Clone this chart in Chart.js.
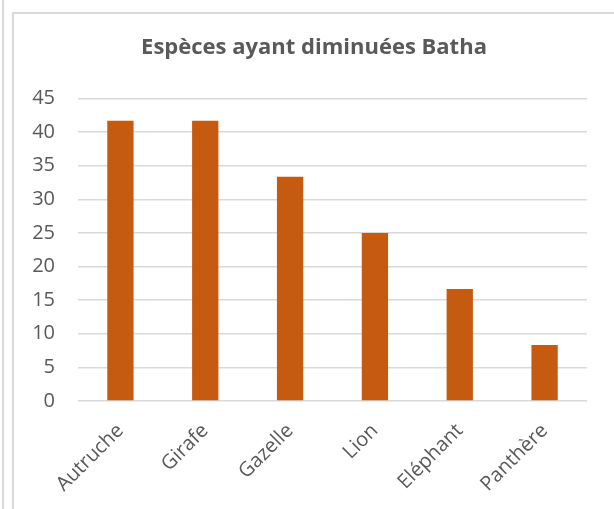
<!DOCTYPE html>
<html>
<head>
<meta charset="utf-8">
<script src="https://cdn.jsdelivr.net/npm/chart.js@4/dist/chart.umd.min.js"></script>
<style>
    html, body { margin: 0; padding: 0; background: #ffffff; }
    body { width: 614px; height: 509px; position: relative; overflow: hidden; }
    .edge { position: absolute; left: 2px; top: 0; width: 2px; height: 509px; background: #d9d9d9; }
    .frame {
        position: absolute; left: 12px; top: 12px; width: 600px; height: 495px;
        border-left: 2px solid #d9d9d9; border-top: 2px solid #d9d9d9;
    }
</style>
</head>
<body>
<div class="edge"></div>
<div class="frame"><canvas id="chart" width="600" height="495"></canvas></div>
<script>
const title = 'Espèces ayant diminuées Batha';
const species = ['Autruche', 'Girafe', 'Gazelle', 'Lion', 'Eléphant', 'Panthère'];
const values = [41.67, 41.67, 33.33, 25, 16.67, 8.33];
const yMax = 45;
const yStep = 5;

document.addEventListener('DOMContentLoaded', function () {
    const ctx = document.getElementById('chart').getContext('2d');

    new Chart(ctx, {
        type: 'bar',
        data: {
            labels: species,
            datasets: [
                {
                    label: title,
                    data: values,
                    backgroundColor: '#c55a11',
                    borderWidth: 0,
                    barPercentage: 0.31,
                    categoryPercentage: 1,
                },
            ],
        },
        options: {
            responsive: false,
            animation: false,
            layout: {
                padding: 0,
            },
            plugins: {
                legend: { display: false },
                tooltip: { enabled: false },
                title: {
                    display: true,
                    text: title,
                    color: '#595959',
                    font: { family: 'Open Sans', size: 22, weight: 'bold', lineHeight: 1.2 },
                    padding: { top: 21, bottom: 37 },
                },
            },
            scales: {
                x: {
                    grid: { display: false },
                    border: { display: false },
                    ticks: {
                        color: '#595959',
                        font: { family: 'Open Sans', size: 20 },
                        maxRotation: 45,
                        minRotation: 45,
                        padding: 10,
                    },
                    afterFit: function (scale) {
                        scale.height = 108;
                    },
                },
                y: {
                    min: 0,
                    max: yMax,
                    border: { display: false },
                    grid: { color: '#d9d9d9', lineWidth: 1.5, drawTicks: false },
                    ticks: {
                        stepSize: yStep,
                        color: '#595959',
                        font: { family: 'Open Sans', size: 20 },
                        padding: 23,
                    },
                    afterFit: function (scale) {
                        scale.width = 64;
                    },
                },
                // empty right-hand gutter so the title stays centred on the whole frame
                right: {
                    position: 'right',
                    grid: { display: false },
                    border: { display: false },
                    ticks: { display: false },
                    afterFit: function (scale) {
                        scale.width = 27;
                    },
                },
            },
        },
    });
});
</script>
</body>
</html>
